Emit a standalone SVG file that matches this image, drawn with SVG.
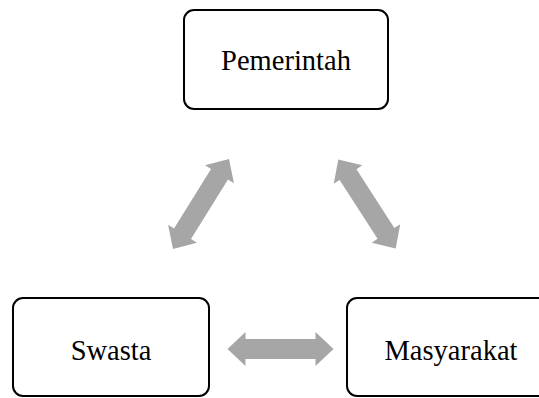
<svg xmlns="http://www.w3.org/2000/svg" width="539" height="398" viewBox="0 0 539 398">
<style>
.box{fill:#fff;stroke:#000;stroke-width:2}
.lbl{font-family:"Liberation Serif","Times New Roman",serif;font-size:28.5px;fill:#000;text-anchor:middle}
.arr{fill:#A6A6A6}
</style>
<defs>
<path id="dbl" d="M -53,0 L -35,-17 L -35,-10 L 35,-10 L 35,-17 L 53,0 L 35,17 L 35,10 L -35,10 L -35,17 Z"/>
</defs>
<rect width="539" height="398" fill="#fff"/>
<g id="connectors" class="arr">
<use href="#dbl" transform="translate(201,204) rotate(-58.1)"/>
<use href="#dbl" transform="translate(367,204) rotate(57.2)"/>
<use href="#dbl" transform="translate(280.5,349)"/>
</g>
<g id="pemerintah">
<rect class="box" x="184" y="10" width="204" height="99" rx="10"/>
<text class="lbl" x="286" y="70">Pemerintah</text>
</g>
<g id="swasta">
<rect class="box" x="13" y="298" width="196" height="98" rx="10"/>
<text class="lbl" x="111" y="360">Swasta</text>
</g>
<g id="masyarakat">
<rect class="box" x="347" y="298" width="210" height="98" rx="10"/>
<text class="lbl" x="451" y="360">Masyarakat</text>
</g>
</svg>
